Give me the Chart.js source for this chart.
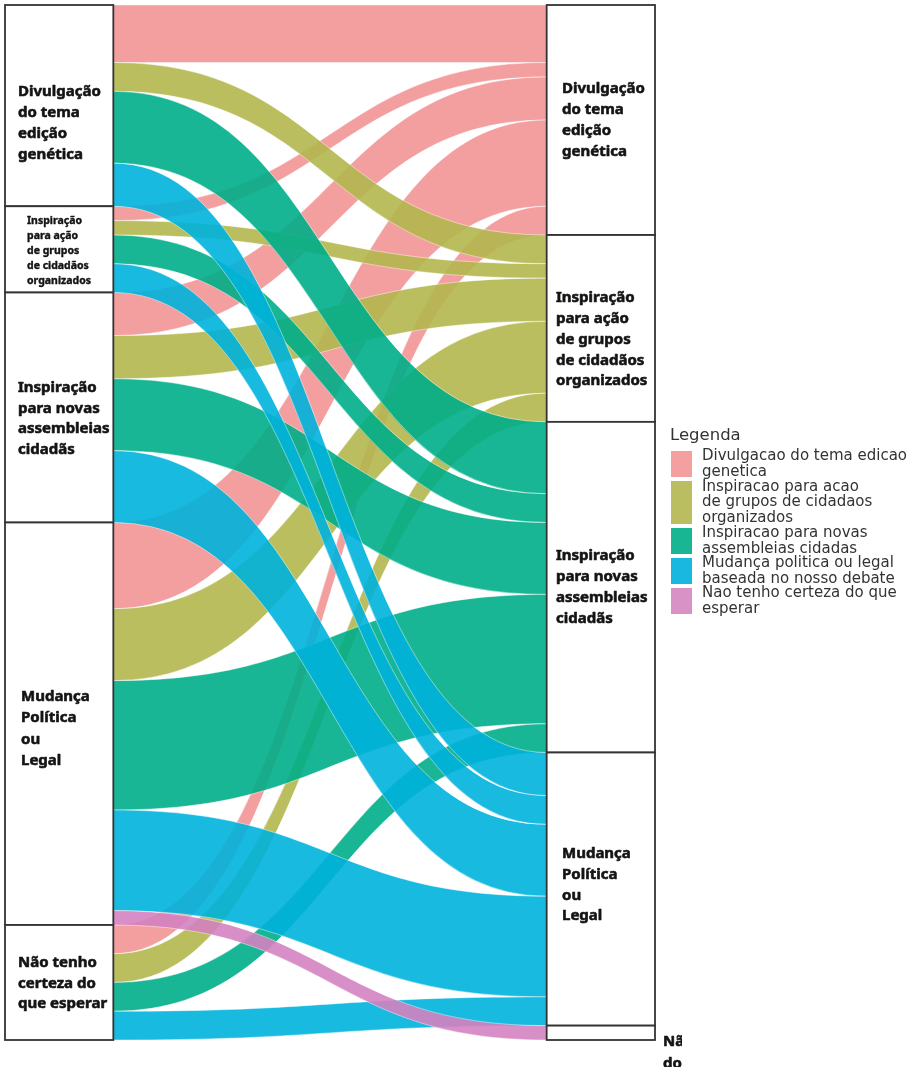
<!DOCTYPE html>
<html>
<head>
<meta charset="utf-8">
<script src="https://cdn.jsdelivr.net/npm/chart.js@4.4.1/dist/chart.umd.min.js"></script>
<style>
  html, body { margin: 0; padding: 0; background: #ffffff; }
  #wrap { width: 913px; height: 1067px; }
</style>
</head>
<body>
<div id="wrap"><canvas id="c" width="913" height="1067"></canvas></div>
<script>
// ---------- DATA ----------
// categories (same on both axes, top to bottom)
const categories = [
  'Divulgação do tema edição genética',
  'Inspiração para ação de grupos de cidadãos organizados',
  'Inspiração para novas assembleias cidadãs',
  'Mudança Política ou Legal',
  'Não tenho certeza do que esperar'
];
// number of respondents going from each left category (index) to each right category
const toDivulgacao   = [4, 1, 3, 6, 2];
const toInspAcao     = [2, 1, 3, 5, 2];
const toInspNovas    = [5, 2, 5, 9, 2];
const toMudanca      = [3, 2, 5, 7, 2];
const toNaoSei       = [0, 0, 0, 1, 0];

// node labels (as wrapped in the picture)
const leftLabels = [
  ['Divulgação', 'do tema', 'edição', 'genética'],
  ['Inspiração', 'para ação', 'de grupos', 'de cidadãos', 'organizados'],
  ['Inspiração', 'para novas', 'assembleias', 'cidadãs'],
  ['Mudança', 'Política', 'ou', 'Legal'],
  ['Não tenho', 'certeza do', 'que esperar']
];
const rightLabels = [
  ['Divulgação', 'do tema', 'edição', 'genética'],
  ['Inspiração', 'para ação', 'de grupos', 'de cidadãos', 'organizados'],
  ['Inspiração', 'para novas', 'assembleias', 'cidadãs'],
  ['Mudança', 'Política', 'ou', 'Legal'],
  ['Não tenho certeza', 'do que esperar']
];
const legendTitle = 'Legenda';
const legendLabels = [
  ['Divulgacao do tema edicao', 'genetica'],
  ['Inspiracao para acao', 'de grupos de cidadaos', 'organizados'],
  ['Inspiracao para novas', 'assembleias cidadas'],
  ['Mudança politica ou legal', 'baseada no nosso debate'],
  ['Nao tenho certeza do que', 'esperar']
];

// ---------- STYLE ----------
const fillColors = [
  'rgba(243,149,149,0.9)',
  'rgba(178,183,78,0.9)',
  'rgba(0,174,138,0.9)',
  'rgba(0,178,220,0.9)',
  'rgba(212,130,192,0.9)'
];
const legendColors = ['#f4a0a0', '#babe60', '#19b694', '#19b8e0', '#d892c6'];
const leftLabelStyle = [
  {x: 18, dy: 18, size: 15, lh: 21},
  {x: 27, dy: 2,  size: 10.5, lh: 15},
  {x: 18, dy: 11, size: 15, lh: 20.5},
  {x: 21, dy: 5,  size: 15, lh: 21.3},
  {x: 18, dy: 1,  size: 15, lh: 20.5}
];
const rightLabelStyle = [
  {x: 562, dy: 0,  size: 15, lh: 21},
  {x: 556, dy: 11, size: 15, lh: 20.8},
  {x: 556, dy: 0,  size: 15, lh: 21.3},
  {x: 562, dy: -4, size: 15, lh: 20.7},
  {x: 663, dy: 20, size: 15, lh: 22, clip: 682}
];

const flowMatrix = [toDivulgacao, toInspAcao, toInspNovas, toMudanca, toNaoSei]; // [target][source]
const STRATUM_HALF = 0.1;

const alluvialPlugin = {
  id: 'alluvial',
  beforeDatasetsDraw(chart) {
    const ctx = chart.ctx;
    const xs = chart.scales.x, ys = chart.scales.y;
    const nS = categories.length, nT = flowMatrix.length;
    // left lode positions (ordered by source, then target)
    const leftPos = [];
    let acc = 0;
    for (let s = 0; s < nS; s++) {
      leftPos[s] = [];
      for (let t = 0; t < nT; t++) { leftPos[s][t] = acc; acc += flowMatrix[t][s]; }
    }
    // right lode positions (ordered by target, then source)
    const rightPos = [];
    acc = 0;
    for (let t = 0; t < nT; t++) {
      rightPos[t] = [];
      for (let s = 0; s < nS; s++) { rightPos[t][s] = acc; acc += flowMatrix[t][s]; }
    }
    const xL = xs.getPixelForValue(1 + STRATUM_HALF);
    const xR = xs.getPixelForValue(2 - STRATUM_HALF);
    const xm = (xL + xR) / 2;
    ctx.save();
    for (let t = 0; t < nT; t++) {
      for (let s = 0; s < nS; s++) {
        const v = flowMatrix[t][s];
        if (!v) continue;
        const l0 = ys.getPixelForValue(leftPos[s][t]);
        const l1 = ys.getPixelForValue(leftPos[s][t] + v);
        const r0 = ys.getPixelForValue(rightPos[t][s]);
        const r1 = ys.getPixelForValue(rightPos[t][s] + v);
        ctx.beginPath();
        ctx.moveTo(xL, l0);
        ctx.bezierCurveTo(xm, l0, xm, r0, xR, r0);
        ctx.lineTo(xR, r1);
        ctx.bezierCurveTo(xm, r1, xm, l1, xL, l1);
        ctx.closePath();
        ctx.fillStyle = fillColors[t];
        ctx.fill();
        ctx.lineWidth = 0.8;
        ctx.strokeStyle = 'rgba(255,255,255,0.55)';
        ctx.stroke();
      }
    }
    // strata
    const drawStrata = (axisX, totals, labels, styles) => {
      const x0 = xs.getPixelForValue(axisX - STRATUM_HALF);
      const x1 = xs.getPixelForValue(axisX + STRATUM_HALF);
      let a = 0;
      for (let i = 0; i < totals.length; i++) {
        const y0 = ys.getPixelForValue(a);
        const y1 = ys.getPixelForValue(a + totals[i]);
        a += totals[i];
        ctx.fillStyle = '#ffffff';
        ctx.fillRect(x0, y0, x1 - x0, y1 - y0);
        ctx.lineWidth = 1.8;
        ctx.strokeStyle = '#333333';
        ctx.strokeRect(x0, y0, x1 - x0, y1 - y0);
        const st = styles[i];
        const lines = labels[i];
        const cy = (y0 + y1) / 2 + st.dy;
        ctx.save();
        if (st.clip) {
          ctx.beginPath();
          ctx.rect(0, 0, st.clip, chart.height);
          ctx.clip();
        }
        ctx.fillStyle = '#141414';
        ctx.strokeStyle = '#141414';
        ctx.lineWidth = st.size > 12 ? 0.6 : 0.4;
        ctx.lineJoin = 'round';
        ctx.font = '700 ' + st.size + 'px "Noto Sans", "Open Sans", sans-serif';
        ctx.textAlign = 'left';
        ctx.textBaseline = 'middle';
        lines.forEach((ln, k) => {
          const yy = cy + (k - (lines.length - 1) / 2) * st.lh;
          ctx.fillText(ln, st.x, yy);
          ctx.strokeText(ln, st.x, yy);
        });
        ctx.restore();
      }
    };
    const leftTotals = categories.map((_, s) => flowMatrix.reduce((p, row) => p + row[s], 0));
    const rightTotals = flowMatrix.map(row => row.reduce((p, v) => p + v, 0));
    drawStrata(1, leftTotals, leftLabels, leftLabelStyle);
    drawStrata(2, rightTotals, rightLabels, rightLabelStyle);

    // legend
    ctx.fillStyle = '#333333';
    ctx.font = '16.5px "DejaVu Sans", sans-serif';
    ctx.textBaseline = 'middle';
    ctx.textAlign = 'left';
    ctx.fillText(legendTitle, 670, 436);
    let ly = 451;
    legendLabels.forEach((lines, i) => {
      const h = 17 * lines.length - 8;
      ctx.fillStyle = legendColors[i];
      ctx.fillRect(671, ly, 21, h);
      ctx.fillStyle = '#333333';
      ctx.font = '15px "DejaVu Sans", sans-serif';
      const cy = ly + h / 2;
      lines.forEach((ln, k) => {
        ctx.fillText(ln, 702, cy + (k - (lines.length - 1) / 2) * 15.5);
      });
      ly += h + 4;
    });
    ctx.restore();
  }
};

new Chart(document.getElementById('c'), {
  type: 'scatter',
  data: {
    datasets: legendLabels.map((l, i) => ({
      label: l.join(' '),
      data: [],
      backgroundColor: legendColors[i],
      pointRadius: 0
    }))
  },
  options: {
    responsive: false,
    animation: false,
    layout: { padding: { left: 5, top: 5, right: 258, bottom: 27 } },
    plugins: { legend: { display: false }, tooltip: { enabled: false } },
    scales: {
      x: { type: 'linear', min: 0.9, max: 2.1, display: false },
      y: { type: 'linear', min: 0, max: 72, reverse: true, display: false }
    }
  },
  plugins: [alluvialPlugin]
});
</script>
</body>
</html>
